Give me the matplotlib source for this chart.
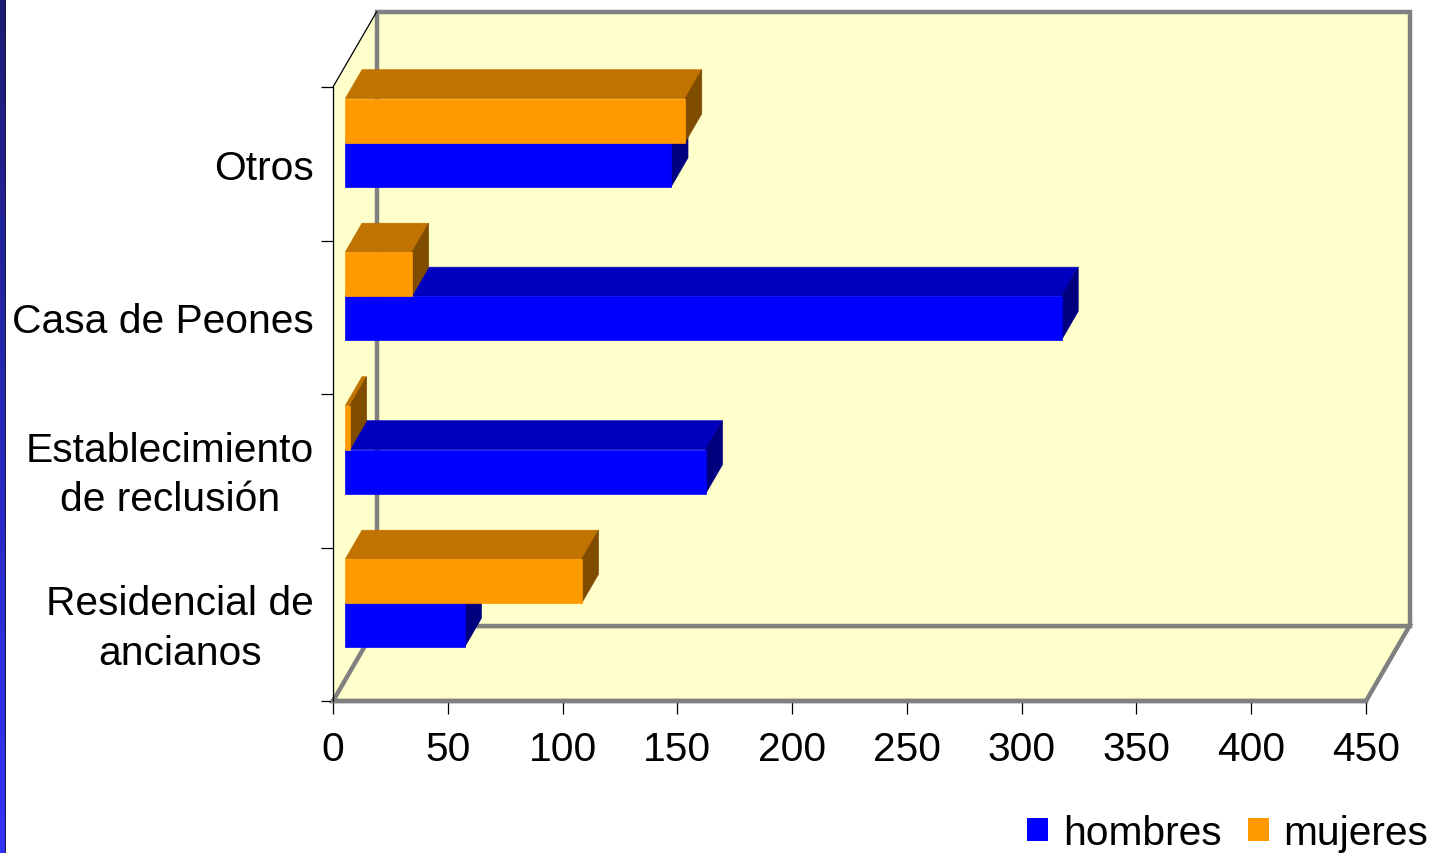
import numpy as np
import matplotlib
matplotlib.use("Agg")
import matplotlib.pyplot as plt
from matplotlib.patches import Polygon, Patch
from matplotlib.transforms import ScaledTranslation

plt.rcParams['font.family'] = ['Liberation Sans', 'DejaVu Sans']

# ---- data ----
categories = ["Residencial de\nancianos", "Establecimiento\nde reclusión", "Casa de Peones", "Otros"]
hombres = [52, 157, 312, 142]
mujeres = [103, 2, 29, 148]
series_names = ["hombres", "mujeres"]
xticks = [0, 50, 100, 150, 200, 250, 300, 350, 400, 450]

# ---- styling ----
W, H = 1432, 854
fig = plt.figure(figsize=(W / 100, H / 100), dpi=100)
fig.patch.set_facecolor("white")
FS = 29.3

# left decorative strip
sax = fig.add_axes([0, 0, 6 / W, 1])
grad = np.linspace(0, 1, 256).reshape(-1, 1)
top_c = np.array([0.11, 0.11, 0.45])
bot_c = np.array([0.20, 0.20, 1.0])
img = top_c[None, None, :] * (1 - grad[..., None]) + bot_c[None, None, :] * grad[..., None]
sax.imshow(img, aspect="auto", extent=[0, 1, 0, 1])
sax.axvline(1, color="#1a1a40", lw=1.5)
sax.set_axis_off()

left_px, right_px, bottom_px, top_px = 333, 1366, 702, 88
ax = fig.add_axes([left_px / W, (H - bottom_px) / H, (right_px - left_px) / W, (bottom_px - top_px) / H])
ax.set_xlim(0, 450)
ax.set_ylim(0, 4)
ax.set_facecolor("none")

kx = (right_px - left_px) / 450.0        # px per value unit
ky = (bottom_px - top_px) / 4.0          # px per category unit
DX = 43.5 / kx                           # full depth in value units
DY = 75.0 / ky                           # full depth in category units
f0, f1 = 0.283, 0.667                    # bar depth span (fraction)
bh = 0.2866                              # bar thickness (category units)

wall = "#FFFFCC"
grid_gray = "#808080"
glw = 3.2

# walls / floor
back = Polygon([(DX, DY), (450 + DX, DY), (450 + DX, 4 + DY), (DX, 4 + DY)],
               closed=True, facecolor=wall, edgecolor=grid_gray, lw=glw, clip_on=False, zorder=0)
leftw = Polygon([(0, 0), (DX, DY), (DX, 4 + DY), (0, 4)],
                closed=True, facecolor=wall, edgecolor="none", clip_on=False, zorder=0)
floor = Polygon([(0, 0), (450, 0), (450 + DX, DY), (DX, DY)],
                closed=True, facecolor=wall, edgecolor=grid_gray, lw=glw, clip_on=False, zorder=0)
ax.add_patch(leftw)
ax.add_patch(floor)
ax.add_patch(back)
ax.plot([0, DX], [4, 4 + DY], color="black", lw=0.9, clip_on=False, zorder=1)

colors = {
    "hombres": ("#0000FF", "#0000BE", "#00007E"),
    "mujeres": ("#FF9900", "#C07300", "#804C00"),
}

ddx = (f1 - f0) * DX
ddy = (f1 - f0) * DY
x0 = f0 * DX
z = 2
for i, cat in enumerate(categories):
    for s, vals in (("hombres", hombres), ("mujeres", mujeres)):
        v = vals[i]
        front, topc, sidec = colors[s]
        yb = i + 0.5 + (0 if s == "mujeres" else -bh) + f0 * DY
        topface = Polygon([(x0, yb + bh), (x0 + v, yb + bh), (x0 + v + ddx, yb + bh + ddy), (x0 + ddx, yb + bh + ddy)],
                          closed=True, facecolor=topc, edgecolor=topc, lw=0.5, zorder=z, clip_on=False)
        side = Polygon([(x0 + v, yb), (x0 + v, yb + bh), (x0 + v + ddx, yb + bh + ddy), (x0 + v + ddx, yb + ddy)],
                       closed=True, facecolor=sidec, edgecolor=sidec, lw=0.5, zorder=z, clip_on=False)
        ax.add_patch(topface)
        ax.add_patch(side)
        ax.barh(yb + bh / 2, v, height=bh, left=x0, color=front, edgecolor=front, lw=0.5, zorder=z + 0.5)
        z += 1

# axes, ticks
for sp in ("top", "right"):
    ax.spines[sp].set_visible(False)
ax.spines["left"].set_color("black")
ax.spines["left"].set_linewidth(0.9)
ax.spines["bottom"].set_color(grid_gray)
ax.spines["bottom"].set_linewidth(glw)
ax.spines["left"].set_zorder(50)

ax.set_xticks(xticks)
ax.set_xticklabels([str(t) for t in xticks], fontsize=FS)
ax.tick_params(axis="x", direction="out", length=9, width=0.9, color="black", pad=12)

ax.set_yticks([0, 1, 2, 3, 4])
ax.set_yticklabels([])
ax.set_yticks([0.5, 1.5, 2.5, 3.5], minor=True)
ax.set_yticklabels(categories, minor=True, fontsize=FS)
ax.tick_params(axis="y", which="major", direction="out", length=9, width=0.9, color="black")
ax.tick_params(axis="y", which="minor", length=0, pad=13.5)
for lab in ax.get_yticklabels(minor=True):
    lab.set_multialignment("center")
    lab.set_linespacing(1.38)
    if "\n" in lab.get_text():
        lab.set_transform(lab.get_transform() + ScaledTranslation(0, 6 / 100, fig.dpi_scale_trans))

handles = [Patch(facecolor=colors[n][0], edgecolor="none") for n in series_names]
fig.legend(handles, series_names, loc="lower right", bbox_to_anchor=(1428 / W, 1 / H), ncol=2,
           frameon=False, fontsize=FS, handlelength=0.52, handleheight=0.5, handletextpad=0.35,
           columnspacing=0.65, borderpad=0.0, borderaxespad=0.0)

fig.savefig("out.png", dpi=100, facecolor="white")
